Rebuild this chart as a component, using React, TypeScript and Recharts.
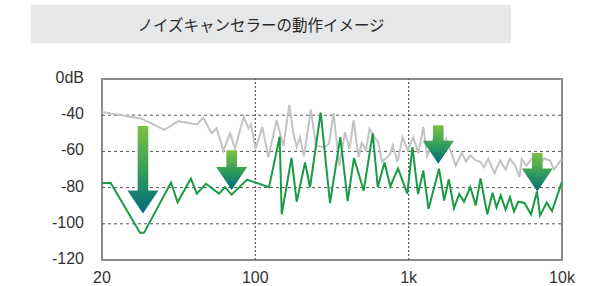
import { LineChart, Line, XAxis, YAxis, ReferenceLine, ReferenceArea } from 'recharts';

const TITLE = 'ノイズキャンセラーの動作イメージ';

// before noise cancelling (grey)
const beforeFreq = [
  10, 18.2, 25.5, 31.5, 41.5, 45.8, 51.9, 56.0, 61.8, 68.4, 73.7, 84.0, 90.0, 93.7, 100.3, 111.1,
  121.5, 137.9, 152.2, 166.5, 176.8, 186.1, 195.6, 207.7, 230.1, 248.7, 280.4, 302.4, 323.5, 352.9,
  384.3, 411.3, 438.0, 470.8, 494.0, 526.9, 555.4, 603.3, 633.9, 670.1, 714.8, 755.8, 786.9, 845.8,
  911.7, 987.2, 1072, 1156, 1246, 1321, 1414, 1508, 1625, 1752, 1909, 2027, 2218, 2366, 2531, 2729,
  2919, 3099, 3306, 3629, 3942, 4281, 4580, 4938, 5284, 5461, 5868, 6374, 6976, 7632, 8351, 8868, 10000,
];
const beforeDb = [
  -38.2, -41.9, -48.1, -43.3, -45.1, -41.4, -50, -47.2, -59.7, -50, -58.6, -40.9, -47.2, -45, -58.6, -46.5,
  -63.2, -42.8, -57.2, -34.3, -49.7, -57.6, -52.1, -62.8, -36.9, -56.7, -57.8, -55.7, -38.9, -67.8,
  -49.4, -58.5, -42.8, -63.2, -55.2, -59.4, -47.5, -52.5, -55, -65.6, -63.6, -61.7, -56.7, -65.9,
  -52.2, -59.4, -52.1, -61.1, -46.5, -62.5, -56.7, -48.3, -59.4, -52.8, -61.3, -67.8, -60.8, -65.6, -62.2, -65,
  -65.6, -68.7, -64.1, -72.2, -65, -70, -64.1, -67.8, -74.2, -64.1, -67.8, -63.9, -68.9, -63.9, -65, -70, -64.1,
];

// after noise cancelling (green)
const afterFreq = [
  10, 11.4, 17.7, 18.8, 28.2, 31.1, 38.0, 41.5, 47.7, 57.9, 63.4, 70.1, 88.2, 122.8, 144.1, 148.6,
  172.2, 186.1, 210.9, 227.3, 266.9, 306.9, 358.3, 400.4, 440.0, 509.1, 582.9, 628.4, 695.9, 759.3,
  851.9, 979.7, 1059, 1151, 1246, 1347, 1578, 1705, 1827, 1976, 2136, 2296, 2523, 2741, 2941, 3258,
  3522, 3741, 3986, 4281, 4580, 4864, 5190, 5693, 6280, 6871, 7187, 7951, 8606, 10000,
];
const afterDb = [
  -77.5, -77.5, -105, -105, -77.2, -88.1, -75, -83.3, -77.9, -83.3, -79.8, -83.9, -75.6, -79.8, -51.9, -94.7,
  -63.6, -87.8, -66.1, -79.8, -38.5, -88.5, -52.1, -87.5, -63.6, -81.7, -50, -79.8, -66.1, -79.4,
  -69.4, -83.3, -57.6, -83.6, -70.6, -91.8, -69.6, -87.2, -75.3, -91.4, -83.5, -87.8, -79.7, -89.8, -74.9, -94.8,
  -82.8, -90.9, -84.3, -92.1, -85.3, -93.2, -87.8, -88.5, -94.8, -82.2, -95.4, -88.3, -92.9, -76.7,
];

// reduction arrows: frequency, start level, end level
const arrowFreq = [18.5, 70.1, 1560, 6900];
const arrowFrom = [-45.9, -59.4, -45.6, -60.9];
const arrowTo = [-94.3, -81.3, -66.8, -82.2];

const xTicks = [10, 100, 1000, 10000];
const xTickLabels = ['20', '100', '1k', '10k'];
const yTicks = [-120, -100, -80, -60, -40, -20];
const yTickLabels = ['-120', '-100', '-80', '-60', '-40', '0dB'];
const hGrid = [-40, -60, -80, -100];
const vGrid = [100, 1000];

const before = beforeFreq.map((f, i) => ({ f, db: beforeDb[i] }));
const after = afterFreq.map((f, i) => ({ f, db: afterDb[i] }));

const Arrow = (p: any, id: string) => {
  const { x1, y1, y2 } = p;
  const head = 23;
  const hw = 15.5;
  const sw = 5.3;
  const yh = y2 - head;
  const d = `M${x1 - sw},${y1} L${x1 + sw},${y1} L${x1 + sw},${yh} L${x1 + hw},${yh} L${x1},${y2} L${x1 - hw},${yh} L${x1 - sw},${yh} Z`;
  return (
    <g>
      <defs>
        <linearGradient id={id} x1="0" y1="0" x2="0" y2="1">
          <stop offset="0%" stopColor="#7cc243" />
          <stop offset="55%" stopColor="#2f9a5c" />
          <stop offset="100%" stopColor="#006a7e" />
        </linearGradient>
      </defs>
      <path d={d} fill={`url(#${id})`} />
    </g>
  );
};

const font = '"Liberation Sans", Arial, sans-serif';

const YTick = (props: any) => {
  const { x, y, payload } = props;
  const i = yTicks.indexOf(payload.value);
  return (
    <text x={x} y={y} dy={4} textAnchor="end" fontSize={16} fill="#333" fontFamily={font}>
      {yTickLabels[i]}
    </text>
  );
};

export default function App() {
  return (
    <div style={{ position: 'absolute', left: 0, top: 0, width: 605, height: 286, background: '#fff' }}>
      <div
        style={{
          position: 'absolute',
          left: 31,
          top: 5,
          width: 480,
          height: 38,
          background: '#e6e7e8',
        }}
      />
      <div
        style={{
          position: 'absolute',
          left: 21,
          top: 5,
          width: 480,
          height: 38,
          lineHeight: '38px',
          textAlign: 'center',
          fontSize: 15.5,
          color: '#2b2b2b',
          fontFamily: '"Noto Sans CJK JP", sans-serif',
        }}
      >
        {TITLE}
      </div>
      <div style={{ position: 'absolute', left: 0, top: 0 }}>
        <LineChart width={605} height={286} margin={{ top: 79, right: 43, left: 0, bottom: 0 }}>
          <XAxis
            dataKey="f"
            type="number"
            scale="log"
            domain={[10, 10000]}
            ticks={xTicks}
            allowDataOverflow
            axisLine={false}
            tickLine={false}
            tickSize={0}
            tickMargin={12}
            height={26}
            tick={{ fontSize: 16, fill: '#333', fontFamily: font }}
            tickFormatter={(v: number) => xTickLabels[xTicks.indexOf(v)]}
          />
          <YAxis
            dataKey="db"
            type="number"
            domain={[-120, -20]}
            ticks={yTicks}
            allowDataOverflow
            axisLine={false}
            tickLine={false}
            tickSize={0}
            tickMargin={18}
            width={102}
            tick={<YTick />}
          />
          {hGrid.map((v) => (
            <ReferenceLine key={'h' + v} y={v} stroke="#555" strokeDasharray="3 3" strokeWidth={1} />
          ))}
          {vGrid.map((v) => (
            <ReferenceLine key={'v' + v} x={v} stroke="#555" strokeDasharray="2 2" strokeWidth={1.2} />
          ))}
          <Line
            data={before}
            dataKey="db"
            type="linear"
            stroke="#c3c3c3"
            strokeWidth={2}
            dot={false}
            isAnimationActive={false}
          />
          <Line
            data={after}
            dataKey="db"
            type="linear"
            stroke="#1a9a45"
            strokeWidth={2}
            dot={false}
            isAnimationActive={false}
          />
          {arrowFreq.map((f, i) => (
            <ReferenceLine
              key={'a' + i}
              segment={[
                { x: f, y: arrowFrom[i] },
                { x: f, y: arrowTo[i] },
              ]}
              shape={(p: any) => Arrow(p, 'arrowGrad' + i)}
            />
          ))}
          <ReferenceArea x1={10} x2={10000} y1={-120} y2={-20} fill="none" stroke="#8a8a8a" strokeWidth={2} />
        </LineChart>
      </div>
    </div>
  );
}
